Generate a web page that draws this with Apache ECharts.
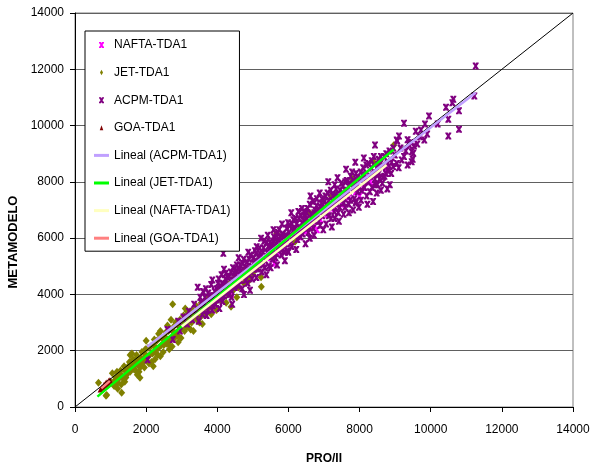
<!DOCTYPE html>
<html>
<head>
<meta charset="utf-8">
<script src="https://cdn.jsdelivr.net/npm/echarts/dist/echarts.min.js"></script>
<style>html,body{margin:0;padding:0;background:#fff;}#chart{width:597px;height:474px;}</style>
</head>
<body>
<div id="chart"></div>
<script>
// ---------------- DATA ----------------
const seriesNames = ['NAFTA-TDA1', 'JET-TDA1', 'ACPM-TDA1', 'GOA-TDA1'];
const trendNames = ['Lineal (ACPM-TDA1)', 'Lineal (JET-TDA1)', 'Lineal (NAFTA-TDA1)', 'Lineal (GOA-TDA1)'];

const naftaPoints = [
  [3000,2900],[3200,3050],[3300,3350],[3400,3250],[3500,3550],[3600,3400],[3870,3447],[3900,3750],
  [4000,4100],[4100,3900],[4300,4150],[4400,4000],[4500,4250],[4600,4700],[4700,4500],[4900,4650],
  [5100,4950],[5200,5300],[5300,5100],[5500,5300],[5600,5100],[5700,5450],[5800,5900],[5900,5650],
  [6100,5900],[6300,6050],[6400,6500],[6500,6250],[6700,6450],[6800,6300],[6900,6650],[7000,7100],
  [7100,6850],[7300,7050],[7500,7200],[7600,7700],[7700,7450],[7900,7650],[8000,7500],[8100,7800],
  [8200,8300],[8300,8000],[8500,8250],[8743,8304],[8760,8500]
];

const jetPoints = [
  [660,860],[872,402],[891,426],[1000,900],[1100,750],[1150,1050],[1200,850],[1200,650],[1250,1150],
  [1312,509],[1350,1000],[1400,1300],[1400,900],[1450,1150],[1500,1450],[1550,1250],[1550,1850],
  [1600,1600],[1650,1350],[1700,1700],[1700,1300],[1750,1500],[1800,1250],[1827,1041],[1850,1750],
  [1900,1550],[1950,1900],[1950,1400],[2000,1700],[2050,2100],[2100,1850],[2150,1600],[2200,2200],
  [2200,1450],[2250,1950],[2300,2350],[2350,2100],[2350,2600],[2400,1800],[2450,2450],[2500,2200],
  [2550,2650],[2600,2350],[2600,2900],[2650,2050],[2700,2750],[2746,3649],[2750,2500],[2800,2900],
  [2800,2450],[2850,2650],[2900,2300],[2950,3100],[3000,2800],[3050,3250],[3100,2950],[3150,3400],
  [3150,2850],[3200,3100],[3250,2750],[3300,3450],[3350,3200],[3400,3600],[3450,3300],[3500,3000],
  [3550,3700],[3600,3400],[3700,3800],[3750,3500],[3800,3900],[3900,3650],[4000,4050],[4100,3800],
  [4200,4300],[4300,4000],[4386,3565],[4500,4600],[4600,4250],[4800,4900],[5000,4700],[5100,5050],
  [5229,4608],[5238,4275],[5670,6172],[6185,5875],[6600,6900],[7200,7500],[7800,8100],[8400,8700],
  [8960,9300],
  [1050,1200],[1120,950],[1180,1250],[1230,1000],[1280,1300],[1330,1100],[1380,1450],[1430,1050],
  [1480,1300],[1530,1600],[1580,1400],[1630,1700],[1680,1500],[1730,1850],[1780,1600],[1830,1400],
  [1880,1950],[1930,1700],[1980,2050],[2030,1800],[2080,1550],[2130,2150],[2180,1900],[2230,2400],
  [2280,2100],[2330,1850],[2380,2450],[2430,2200],[2480,1950],[2530,2500],[2580,2250],[2630,2700],
  [2680,2400],[2730,2150],[2780,2650],[2830,3000],[2880,2550],[2930,2850],[2980,2450],[3030,3050],
  [3080,2700],[3130,3200],[3180,2950],[3230,3300],[3280,3000],[3330,2700],[3380,3350],[3430,3100],
  [3480,3500],[3530,3200],[3580,2950],[3630,3600],[3680,3300],[3730,3850],[3780,3600],[3830,3300],
  [3880,3950],[3930,3700],[3980,3450],[4050,4200],[4150,4000],[4250,3700],[4350,4400],[4450,4150],
  [4550,3900],[4650,4600],[4750,4400],[4900,4500],[5050,4850],[1600,1900],[2000,2350],[2400,2700],
  [2700,3100],[3100,3500],[1300,800],[1750,1150],[2250,1700],[2650,2200]
];

const acpmPoints = [
  [2040,1680],[2600,2750],[2750,2400],[2900,3050],[2950,2700],
  [3050,3200],[3150,2950],[3200,3400],[3300,3100],[3350,3650],[3449,4253],[3400,3300],[3480,3050],
  [3550,3700],[3600,3450],[3650,3900],[3700,3550],[3750,4050],[3800,3700],[3861,4513],[3850,3450],
  [3900,3950],[3950,3650],[3980,4200],[3700,3250],[3600,4100],
  [4020,4400],[4050,3850],[4100,4150],[4150,3750],[4189,4893],[4200,4350],[4250,4050],[4300,4600],
  [4350,4200],[4400,3900],[4450,4500],[4480,4250],[4170,5461],[4120,4700],[4380,4800],[4420,3650],
  [4060,3500],[4080,4300],[4230,4550],[4330,4000],[4470,4750],
  [4520,4700],[4550,4350],[4600,4900],[4650,4500],[4700,4200],[4720,5100],[4780,4650],[4800,4950],
  [4850,4400],[4900,5250],[4950,4800],[4980,4550],[4600,5300],[4750,4000],[4870,5500],[4550,5050],
  [4920,4150],[4580,4600],[4680,4850],[4830,5150],[4960,5000],
  [5020,5300],[5050,4900],[5107,5697],[5150,5100],[5200,5450],[5250,4800],[5300,5650],[5350,5200],
  [5400,5500],[5450,5000],[5480,5850],[5100,4600],[5230,6000],[5380,4700],[5320,5900],[5420,6100],
  [5060,5550],[5080,5200],[5180,5350],[5280,5050],[5430,5700],
  [5520,5600],[5550,5250],[5600,5900],[5650,5450],[5700,6200],[5750,5700],[5800,5400],[5850,6050],
  [5900,5800],[5950,6350],[5980,5550],[5580,6300],[5680,5050],[5820,6500],[5900,5200],[5620,6000],
  [5760,6050],[5530,5800],[5630,5700],[5730,5950],[5830,5750],[5930,6100],[5500,4950],
  [6020,6200],[6050,5800],[6100,6500],[6150,6100],[6200,6700],[6250,5950],[6300,6400],[6350,6800],
  [6400,6150],[6450,6600],[6480,5800],[6080,6900],[6220,5600],[6380,7050],[6280,6950],[6420,6350],
  [6160,6300],[6030,6450],[6130,6250],[6230,6500],[6330,6200],[6430,6800],[6000,5500],
  [6520,6900],[6550,6500],[6600,7200],[6650,6700],[6700,6350],[6750,7000],[6800,7400],[6850,6600],
  [6900,7100],[6950,6800],[6980,6300],[6620,7500],[6720,6100],[6880,7600],[6560,6200],[6780,6800],
  [6530,6700],[6630,6550],[6730,6900],[6830,7000],[6930,7250],[6600,6000],
  [7020,7300],[7050,6900],[7100,7600],[7150,7150],[7200,6700],[7250,7500],[7300,7900],[7350,7200],
  [7400,6900],[7450,7700],[7480,7350],[7120,8000],[7220,6400],[7380,8150],[7420,6600],[7060,6500],
  [7030,7050],[7130,7350],[7230,7100],[7330,7550],[7430,7450],[7300,6700],
  [7520,7600],[7560,7250],[7600,8000],[7650,7700],[7700,7200],[7750,8200],[7800,7800],[7850,7400],
  [7900,8300],[7950,7650],[7980,7100],[7620,8450],[7700,6900],[7880,8700],[7550,6850],[7820,7000],
  [7530,7850],[7630,7500],[7730,7950],[7830,8050],[7930,7900],[7900,7300],
  [8020,8100],[8060,7700],[8100,8500],[8150,8000],[8200,7500],[8250,8650],[8300,8200],[8350,7800],
  [8400,8900],[8434,9310],[8450,8300],[8480,7600],[8120,8850],[8220,7200],[8380,7300],[8030,8350],
  [8130,8250],[8330,8500],[8430,8100],[8530,8800],[8500,7900],
  [8520,8600],[8560,8100],[8600,8900],[8650,8540],[8700,8200],[8750,9000],[8800,8400],[8850,7900],
  [8900,8700],[8950,9200],[8600,7700],[8780,7750],[8660,8170],[8800,8420],
  [9044,9487],[9062,9452],[9109,9629],[9184,8777],[9249,10080],[9300,9100],[9350,8600],[9400,9300],
  [9465,9072],[9493,8801],[9465,8717],[9530,9274],[9100,8500],[9511,9015],
  [9623,9345],[9727,9843],[9820,9487],[9839,10056],[9952,10341],
  [10196,10056],[10430,10648],[10495,10222],[10495,9629],[10608,10814],[10636,10934],[10795,10529],
  [10795,9866],[11227,11051],[11264,12117],
  [3520,3900],[3580,3300],[3630,3700],[3680,4200],[3730,3450],[3780,3950],[3830,4350],[3880,3600],
  [3930,4100],[3990,3800],[4040,4550],[4090,4000],[4140,4400],[4190,3950],[4240,4750],[4290,4300],
  [4340,4650],[4390,4150],[4440,4950],[4490,4400],[4540,4850],[4590,4300],[4640,5050],[4690,4650],
  [4740,5250],[4790,4500],[4840,4900],[4890,4700],[4940,5400],[4990,4900],[5040,5100],[5090,5450],
  [5140,4900],[5190,5650],[5240,5200],[5290,5500],[5340,4950],[5390,5850],[5440,5350],[5490,5600],
  [5540,5450],[5590,6050],[5640,5300],[5690,5850],[5740,6300],[5790,5600],[5840,6150],[5890,5500],
  [5940,6000],[5990,6550],[6040,6050],[6090,5700],[6140,6650],[6190,6350],[6240,6150],[6290,6700],
  [6340,6050],[6390,6550],[6440,6950],[6490,6400],[6540,7050],[6590,6400],[6640,6850],[6690,7300],
  [6740,6600],[6790,7150],[6840,6800],[6890,6450],[6940,7400],[6990,7000],[7040,7500],[7090,7150],
  [7140,6800],[7190,7700],[7240,7300],[7290,6950],[7340,7750],[7390,7400],[7440,7100],[7490,7950],
  [7540,7450],[7590,7100],[7640,8050],[7690,7650],[7740,7350],[7790,8350],[7840,7750],[7890,7250],
  [7940,8150],[7990,7800],[8040,7350],[8090,8250],[8140,7800],[8190,8600],[8240,8000],[8290,7650],
  [8340,8750],[8390,8250],[8440,7900],[8490,8500],[8540,8300],[8590,8650],[8640,7950],[8690,8900],
  [8740,8300],[8790,8650],[8840,9100],[8890,8300],[8940,8550],[8990,8950],[9150,9200],[9250,8900],
  [9350,9500],[9450,9400],[9050,8650],[9700,9600],[9900,9700],[9580,9800]
];

const goaPoints = [
  [720,620],[760,700],[780,680],[800,720],[820,800],[850,780],[870,850],[880,820],[900,880],
  [920,860],[950,930],[980,950]
];

// Linear trend lines (end points) and the y = x reference line
const trendACPM = [[2030,2140],[11260,11170]];
const trendJET = [[630,370],[8960,9150]];
const trendNAFTA = [[3000,2860],[8760,8600]];
const trendGOA = [[740,660],[980,930]];
const diagonal = [[0,0],[14000,14000]];

const axisMin = 0, axisMax = 14000, axisStep = 2000;
const xAxisTitle = 'PRO/II';
const yAxisTitle = 'METAMODELO';

// ---------------- CHART ----------------
const FONT = '"Liberation Sans", Arial, sans-serif';
const starPath = 'path://M0,0L4,0L5,2L6,0L10,0L10,1.5L7,5L10,8.5L10,10L6,10L5,8L4,10L0,10L0,8.5L3,5L0,1.5Z';
const starIcon = 'path://M0,0M30,28M10,8L14,8L15,10.4L16,8L20,8L20,9.8L17,14L20,18.2L20,20L16,20L15,17.6L14,20L10,20L10,18.2L13,14L10,9.8Z';
const diamondIcon = 'path://M0,0M30,28M15,8.5L18,14L15,19.5L12,14Z';
const triIcon = 'path://M0,0M30,28M15,9L18.5,19L11.5,19Z';
const lineIcon = 'path://M0,0M30,28M0,11L30,11L30,17L0,17Z';

const colors = {
  nafta: '#ff00ff', jet: '#808000', acpm: '#800080', goa: '#800000',
  tACPM: '#c0a0ff', tJET: '#00ff00', tNAFTA: '#ffffc0', tGOA: '#ff8080'
};

const chart = echarts.init(document.getElementById('chart'), null, {renderer: 'canvas'});

function axisCommon() {
  return {
    type: 'value', min: axisMin, max: axisMax, interval: axisStep,
    axisLine: {show: true, onZero: false, lineStyle: {color: '#000', width: 1}},
    axisTick: {show: true, inside: false, length: 5, lineStyle: {color: '#000'}},
    axisLabel: {color: '#000', fontSize: 12, fontFamily: FONT, showMinLabel: true, showMaxLabel: true,
                hideOverlap: false, formatter: function (v) { return String(v); }},
    nameLocation: 'middle',
    nameTextStyle: {color: '#000', fontSize: 12, fontWeight: 'bold', fontFamily: FONT}
  };
}

const xAxis = axisCommon();
xAxis.name = xAxisTitle;
xAxis.nameGap = 46;
xAxis.axisLabel.margin = 17;
xAxis.splitLine = {show: false};

const yAxis = axisCommon();
yAxis.name = yAxisTitle;
yAxis.nameGap = 42;
yAxis.axisLabel.margin = 11;
yAxis.nameTextStyle.fontSize = 13;
yAxis.nameTextStyle.padding = [0, 64, 0, 0];
yAxis.splitLine = {show: true, lineStyle: {color: '#606060', width: 1}};

function scatter(name, data, symbol, size, color) {
  return {name, type: 'scatter', data, symbol, symbolSize: size,
    itemStyle: {color, opacity: 1}, emphasis: {disabled: true}, z: 2};
}
function trend(name, data, color, z) {
  return {name, type: 'line', data, symbol: 'none', showSymbol: false,
    lineStyle: {color, width: 2.5}, itemStyle: {color}, emphasis: {disabled: true}, z: z};
}

chart.setOption({
  animation: false,
  backgroundColor: '#fff',
  grid: {left: 75, right: 24, top: 13, bottom: 67, show: true, borderColor: '#808080', borderWidth: 1,
         backgroundColor: 'transparent', containLabel: false, outerBoundsMode: 'none'},
  xAxis: xAxis,
  yAxis: yAxis,
  legend: {
    orient: 'vertical', left: 85, top: 31,
    itemWidth: 15, itemHeight: 14, itemGap: 13.6,
    padding: [7, 9, 6, 9],
    backgroundColor: '#fff', borderColor: '#000', borderWidth: 1, borderRadius: 0,
    textStyle: {color: '#000', fontSize: 12, fontFamily: FONT},
    selectedMode: false,
    data: [
      {name: seriesNames[0], icon: starIcon, itemStyle: {color: colors.nafta}},
      {name: seriesNames[1], icon: diamondIcon, itemStyle: {color: colors.jet}},
      {name: seriesNames[2], icon: starIcon, itemStyle: {color: colors.acpm}},
      {name: seriesNames[3], icon: triIcon, itemStyle: {color: colors.goa}},
      {name: trendNames[0], icon: lineIcon, itemStyle: {color: colors.tACPM}},
      {name: trendNames[1], icon: lineIcon, itemStyle: {color: colors.tJET}},
      {name: trendNames[2], icon: lineIcon, itemStyle: {color: colors.tNAFTA}},
      {name: trendNames[3], icon: lineIcon, itemStyle: {color: colors.tGOA}}
    ]
  },
  series: [
    scatter(seriesNames[0], naftaPoints, starPath, [6, 7], colors.nafta),
    scatter(seriesNames[1], jetPoints, 'diamond', [7, 8], colors.jet),
    scatter(seriesNames[2], acpmPoints, starPath, [6, 7], colors.acpm),
    scatter(seriesNames[3], goaPoints, 'triangle', [6, 6], colors.goa),
    {name: 'y=x', type: 'line', data: diagonal, symbol: 'none', showSymbol: false,
     lineStyle: {color: '#000', width: 1}, emphasis: {disabled: true}, z: 3},
    trend(trendNames[0], trendACPM, colors.tACPM, 4),
    trend(trendNames[1], trendJET, colors.tJET, 4),
    trend(trendNames[2], trendNAFTA, colors.tNAFTA, 4),
    trend(trendNames[3], trendGOA, colors.tGOA, 4)
  ]
});
</script>
</body>
</html>
